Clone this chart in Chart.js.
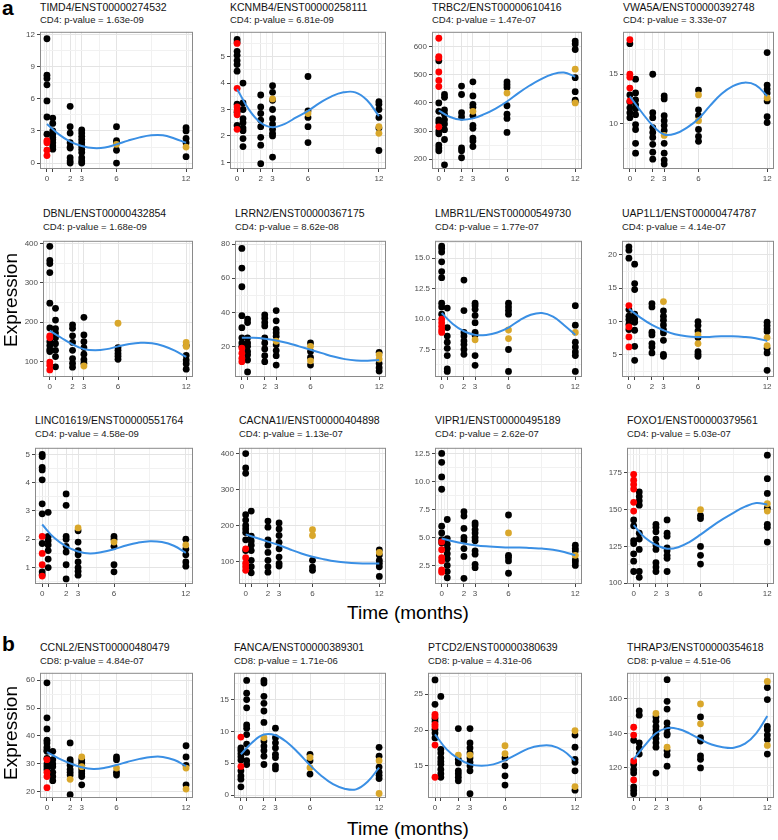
<!DOCTYPE html>
<html>
<head>
<meta charset="utf-8">
<script src="https://cdn.jsdelivr.net/npm/chart.js@4.4.1/dist/chart.umd.min.js"></script>
<style>
  body { margin: 0; background: #fff; }
  #fig { position: relative; width: 778px; height: 840px; overflow: hidden; font-family: "Liberation Sans", Arial, sans-serif; }
  .lbl { position: absolute; white-space: nowrap; line-height: 1; }
  .title { font-size: 10.5px; color: #111; transform: translateY(-50%); }
  .sub { font-size: 9.5px; color: #222; transform: translateY(-50%); }
  .axis { font-size: 19px; color: #000; transform: translate(-50%, -50%); }
  .tag { font-size: 21px; font-weight: bold; color: #000; }
  canvas { position: absolute; }
</style>
</head>
<body>
<div id="fig"></div>
<script>
// time points of the samples and the x tick labels
const months = [0, 0.5, 2, 3, 6, 12];
const monthLabels = ['0', '', '2', '3', '6', '12'];
const fitMonths = [0, 1, 2, 3, 4, 5, 6, 7, 8, 9, 10, 11, 12];

// ---- panel a ----
const TIMD4_black = [[11.6, 8.2, 7.9, 7.3, 5.8, 4.3, 2.7], [4.2, 3.7, 3.0, 2.7, 2.4, 2.2, 1.9, 1.6, 1.3], [5.3, 3.4, 2.8, 1.9, 1.5, 1.4, 0.5, 0.2, 0.0], [3.1, 2.8, 2.5, 2.2, 1.9, 1.6, 1.3, 1.0, 0.5, 0.2, 0.0], [3.4, 2.1, 1.9, 1.2, 0.0], [3.3, 3.0, 2.3, 1.9, 0.6]];
const TIMD4_red = [2.1, 1.9, 1.2, 0.7];
const TIMD4_gold = [[], [], [], [], [1.75], [1.5]];
const TIMD4_fit = [3.65, 2.7, 2.0, 1.6, 1.4, 1.45, 1.75, 2.1, 2.4, 2.6, 2.6, 2.3, 1.9];
const TIMD4_yTicks = [0, 3, 6, 9, 12];
const TIMD4_yLabels = ['0', '3', '6', '9', '12'];

const KCNMB4_black = [[5.65, 5.55, 5.2, 5.05, 4.85, 4.7, 4.45, 3.2, 2.9, 2.4], [4.0, 3.25, 3.0, 2.65, 2.5, 2.3, 2.2, 1.9, 1.6], [3.55, 3.1, 2.85, 2.6, 2.35, 1.95, 1.65, 0.95], [3.9, 3.65, 3.35, 3.0, 2.65, 2.45, 2.25, 2.1, 2.0, 1.2], [4.25, 2.95, 2.7, 2.35, 1.75], [3.3, 3.2, 3.0, 2.7, 2.3, 1.45]];
const KCNMB4_red = [5.5, 3.8, 3.1, 2.95, 2.8, 2.25];
const KCNMB4_gold = [[], [], [], [3.4], [2.85], [2.1, 2.35]];
const KCNMB4_fit = [3.78, 3.0, 2.5, 2.33, 2.45, 2.7, 2.95, 3.25, 3.5, 3.65, 3.65, 3.35, 2.75];
const KCNMB4_yTicks = [1, 2, 3, 4, 5];
const KCNMB4_yLabels = ['1', '2', '3', '4', '5'];

const TRBC2_black = [[550, 400, 370, 340, 330, 300, 290, 250, 240, 230], [430, 420, 375, 360, 340, 325, 305, 270, 180], [460, 430, 365, 350, 240, 230, 205], [475, 425, 395, 385, 355, 320, 310, 275, 265, 245], [475, 465, 455, 390, 360, 345, 295], [620, 610, 590, 490, 440, 410, 405]];
const TRBC2_red = [630, 565, 560, 510, 480, 458, 315];
const TRBC2_gold = [[], [], [], [370], [435], [520, 400]];
const TRBC2_fit = [373, 350, 340, 345, 360, 380, 405, 435, 462, 485, 502, 508, 493];
const TRBC2_yTicks = [200, 300, 400, 500, 600];
const TRBC2_yLabels = ['200', '300', '400', '500', '600'];

const VWA5A_black = [[18.1, 12.9, 12.2, 11.6, 11.1, 10.6], [14.5, 13.1, 12.4, 11.9, 11.5, 10.9, 9.9, 9.4, 8.0, 7.0], [15.0, 11.1, 10.6, 9.6, 9.1, 8.6, 7.9, 7.1, 6.4], [12.8, 12.5, 10.8, 10.3, 9.8, 9.3, 8.0, 7.0, 6.3, 5.9], [13.4, 11.4, 10.8, 9.4, 8.7, 8.2], [17.2, 13.9, 13.5, 13.1, 12.3, 10.7, 10.1]];
const VWA5A_red = [18.5, 15.0, 14.7, 13.6, 12.3];
const VWA5A_gold = [[], [], [], [8.8], [12.9, 10.3], [12.6]];
const VWA5A_fit = [12.75, 11.2, 9.8, 8.9, 9.0, 9.6, 10.5, 11.8, 13.0, 13.8, 14.15, 13.9, 12.8];
const VWA5A_yTicks = [10, 15];
const VWA5A_yLabels = ['10', '15'];

const DBNL_black = [[393, 357, 349, 326, 248, 185, 150, 140, 130, 125], [235, 205, 183, 172, 160, 145, 128, 112, 86], [193, 184, 165, 148, 128, 107, 95, 85], [212, 167, 150, 135, 118, 104, 95], [135, 128, 120, 113, 105], [140, 115, 103, 94, 80]];
const DBNL_red = [165, 160, 98, 90, 78];
const DBNL_gold = [[], [], [], [88], [197], [148, 138]];
const DBNL_fit = [178, 160, 143, 131, 128, 131, 138, 144, 147, 146, 139, 127, 111];
const DBNL_yTicks = [100, 200, 300, 400];
const DBNL_yLabels = ['100', '200', '300', '400'];

const LRRN2_black = [[77.5, 66, 55, 38, 31, 25, 22, 20], [36, 34, 25, 22, 20, 17, 15, 12, 5], [38.5, 36.5, 34, 32, 25, 22, 18.5, 14.5, 11], [41, 35, 30, 28, 26, 21, 17.5, 14.5, 9], [22, 17, 13.5, 9], [16.5, 10, 7.5, 5.5]];
const LRRN2_red = [19, 16, 13, 11];
const LRRN2_gold = [[], [], [], [23], [20, 11.5], [15, 12.5]];
const LRRN2_fit = [25, 25, 24.5, 23.5, 22, 20, 18, 16, 14, 12.5, 11.7, 11.5, 12];
const LRRN2_yTicks = [20, 40, 60, 80];
const LRRN2_yLabels = ['20', '40', '60', '80'];

const LMBR1L_black = [[16.0, 15.8, 15.5, 14.7, 13.9, 13.4, 11.3, 11.0, 10.4], [10.9, 9.3, 8.6, 8.1, 7.6, 7.0, 5.9, 5.7], [13.2, 10.7, 8.9, 8.6, 8.2, 7.9, 7.5, 7.1], [11.3, 11.1, 10.8, 10.3, 9.7, 8.9, 8.7, 7.0, 6.2], [11.3, 11.0, 10.7, 10.4, 7.5, 5.7], [11.1, 9.5, 8.1, 7.7, 7.3, 7.0, 5.7]];
const LMBR1L_red = [10.0, 9.7, 9.4, 9.1, 8.9];
const LMBR1L_gold = [[], [], [], [8.3], [9.1, 8.4], [8.9]];
const LMBR1L_fit = [10.5, 9.6, 9.0, 8.7, 8.7, 8.9, 9.3, 9.9, 10.35, 10.5, 10.2, 9.5, 8.7];
const LMBR1L_yTicks = [7.5, 10, 12.5, 15];
const LMBR1L_yLabels = ['7.5', '10.0', '12.5', '15.0'];

const UAP1L1_black = [[21.2, 20.7, 19.5, 11.8, 10.8, 10.3, 9.6, 8.8], [18.6, 15.7, 14.8, 11.1, 10.4, 9.9, 8.7, 6.3, 4.2], [12.7, 12.2, 8.4, 8.0, 6.7, 6.2, 5.3], [11.6, 10.8, 10.2, 9.5, 8.8, 8.3, 7.2, 5.1, 4.8], [10.0, 9.4, 8.6, 7.6, 5.5, 5.1, 4.8], [9.9, 9.4, 8.9, 8.5, 6.0, 5.3, 2.7]];
const UAP1L1_red = [12.4, 9.2, 7.7, 6.2];
const UAP1L1_gold = [[], [], [], [13.0], [8.0, 6.7], [7.6, 6.4]];
const UAP1L1_fit = [11.9, 10.6, 9.5, 8.7, 8.1, 7.8, 7.7, 7.7, 7.8, 7.8, 7.7, 7.5, 7.1];
const UAP1L1_yTicks = [5, 10, 15, 20];
const UAP1L1_yLabels = ['5', '10', '15', '20'];

const LINC01619_black = [[5.0, 4.92, 4.54, 4.45, 4.1, 3.25, 2.9, 1.85, 0.85, 0.75], [2.95, 2.1, 1.95, 1.8, 1.6, 1.3, 1.0], [3.6, 3.2, 2.1, 2.0, 1.75, 1.55, 1.1, 0.6], [2.3, 1.9, 1.6, 1.45, 1.2, 1.0, 0.87, 0.73], [2.1, 2.0, 1.75, 1.1, 0.85], [2.0, 1.65, 1.45, 1.2, 1.05]];
const LINC01619_red = [2.1, 1.5, 1.1, 0.7];
const LINC01619_gold = [[], [], [], [2.4], [1.9], [1.8]];
const LINC01619_fit = [2.52, 2.05, 1.75, 1.57, 1.5, 1.55, 1.65, 1.78, 1.88, 1.93, 1.9, 1.77, 1.52];
const LINC01619_yTicks = [1, 2, 3, 4, 5];
const LINC01619_yLabels = ['1', '2', '3', '4', '5'];

const CACNA1I_black = [[400, 360, 345, 230, 215, 200, 190, 180, 160, 130], [240, 170, 157, 145, 130, 103, 85, 68], [212, 195, 160, 145, 125, 103, 85, 70], [207, 190, 172, 153, 135, 112, 94, 87], [103, 84, 75], [132, 118, 103, 95, 85, 58]];
const CACNA1I_red = [135, 110, 95, 85, 75];
const CACNA1I_gold = [[], [], [], [], [188, 172], [125]];
const CACNA1I_fit = [175, 165, 155, 145, 133, 122, 113, 106, 100, 97, 95, 94, 94];
const CACNA1I_yTicks = [100, 200, 300, 400];
const CACNA1I_yLabels = ['100', '200', '300', '400'];

const VIPR1_black = [[12.5, 11.7, 10.4, 9.3, 6.0, 5.4, 4.8, 4.5], [6.6, 4.9, 4.4, 4.0, 3.55, 3.1, 2.5, 1.95, 1.4], [7.3, 6.9, 5.8, 5.0, 4.7, 4.0, 3.3, 1.35], [6.3, 6.1, 5.7, 5.4, 5.0, 4.7, 3.8, 3.5, 2.6, 2.3], [7.0, 3.4, 3.2, 2.9, 1.8], [4.3, 4.0, 3.8, 3.0, 2.8, 2.5]];
const VIPR1_red = [4.6, 3.9, 3.2, 2.9, 2.1, 1.9];
const VIPR1_gold = [[], [], [], [], [5.4], [3.4]];
const VIPR1_fit = [4.9, 4.65, 4.45, 4.3, 4.2, 4.15, 4.1, 4.1, 4.05, 4.0, 3.9, 3.7, 3.4];
const VIPR1_yTicks = [2.5, 5, 7.5, 10, 12.5];
const VIPR1_yLabels = ['2.5', '5.0', '7.5', '10.0', '12.5'];

const FOXO1_black = [[143, 139, 129, 127, 120, 115, 108], [162, 159, 156, 153, 134, 130, 123, 108, 104], [140, 138, 135, 130, 126, 123, 114, 111, 108], [143, 134, 132, 124, 122, 119, 117, 108], [146, 144, 125, 119, 113], [187, 171, 161, 151, 140, 138, 128]];
const FOXO1_red = [174, 170, 167, 164, 155, 149];
const FOXO1_gold = [[], [], [], [], [150], [154, 149]];
const FOXO1_fit = [139.5, 131, 126, 123.5, 124.5, 128, 133, 138.5, 143.5, 148, 152, 154.5, 153.5];
const FOXO1_yTicks = [100, 125, 150, 175];
const FOXO1_yLabels = ['100', '125', '150', '175'];

// ---- panel b ----
const CCNL2_black = [[59, 46.5, 42.5, 38.5, 37.5, 36, 35, 34.5, 32, 30, 29, 28], [34.5, 31.5, 30, 29, 27, 25.5, 24], [37.5, 31.5, 30.5, 29.5, 28, 27, 26, 19], [31.5, 30.5, 29.5, 28.5, 27.5, 26.5, 25.5, 22.5], [32.5, 31.5, 27, 26], [36.5, 32.5, 29.5, 22.5]];
const CCNL2_red = [31.5, 27, 25.5, 21.5];
const CCNL2_gold = [[], [], [24.5], [32.5, 29], [28.5], [28.5, 21]];
const CCNL2_fit = [34.2, 32, 30.2, 28.8, 28.2, 28.6, 29.6, 30.8, 31.8, 32.5, 32.5, 31.4, 29.2];
const CCNL2_yTicks = [20, 30, 40, 50, 60];
const CCNL2_yLabels = ['20', '30', '40', '50', '60'];

const FANCA_black = [[7.4, 7.0, 6.5, 6.0, 5.5, 3.8, 3.0, 2.5, 1.3], [18, 16, 15, 13.7, 11, 10.5, 9.5, 8, 6.7, 5.4, 4.8], [18, 17.6, 15.5, 14.4, 13.2, 11.4, 8.5, 7.7, 7.0, 6.1, 4.8], [10.5, 9.0, 8.2, 7.4, 6.4, 5.9, 4.6, 4.1], [6.4, 5.4, 3.3], [7.5, 6.1, 4.4, 3.6, 3.1, 2.6]];
const FANCA_red = [9.1, 4.5];
const FANCA_gold = [[], [], [9.0], [], [5.9, 4.3], [5.4, 0.25]];
const FANCA_fit = [6.4, 8.3, 9.5, 9.4, 8.3, 6.6, 4.7, 3.0, 1.7, 1.0, 0.9, 2.1, 4.3];
const FANCA_yTicks = [0, 5, 10, 15];
const FANCA_yLabels = ['0', '5', '10', '15'];

const PTCD2_black = [[27, 23.6, 21.6, 21.2, 20.1, 19.6, 18.9], [24.7, 17.3, 16.8, 16.1, 15.6, 15.2, 14.5, 13.9, 13.4], [20.2, 15.9, 15.4, 14.3, 13.9, 13.4, 12.9], [20.2, 18.2, 17.5, 16.8, 16.1, 15.5, 15.0, 14.3, 11.1], [16.1, 15.0, 13.6, 12.3], [19.3, 17.6, 15.9, 15.5, 14.3, 11.6]];
const PTCD2_red = [22.2, 21.9, 20.8, 20.5, 17.9, 13.4];
const PTCD2_gold = [[], [], [16.5], [16.5], [17.8, 16.7], [19.9, 12.1]];
const PTCD2_fit = [19.4, 17.3, 16.0, 15.2, 15.0, 15.2, 15.8, 16.6, 17.4, 17.8, 17.8, 17.1, 15.7];
const PTCD2_yTicks = [15, 20, 25];
const PTCD2_yLabels = ['15', '20', '25'];

const THRAP3_black = [[136, 122, 119, 117, 109, 107, 105], [153, 150.5, 134.5, 131.5, 128], [149.5, 147, 144, 142, 139.5, 137, 134.5, 132, 117], [171, 158.5, 154, 146, 143, 140, 139, 130, 127.5, 121], [149.5, 137.5, 135.5, 127, 125, 120], [166.5, 159.5, 144, 142, 139, 136.5, 128]];
const THRAP3_red = [143.5, 139, 124, 113];
const THRAP3_gold = [[], [], [151.5], [132], [157, 145.5], [170, 133]];
const THRAP3_fit = [125, 133, 140, 143, 142.5, 140, 136.5, 133.5, 132, 131.7, 134, 140, 150];
const THRAP3_yTicks = [120, 140, 160];
const THRAP3_yLabels = ['120', '140', '160'];

// ---- layout ----
const rows = [
  { titleY: 7, subY: 19.5, top: 29, bottom: 169 },
  { titleY: 213, subY: 227, top: 238, bottom: 377 },
  { titleY: 420, subY: 434, top: 445, bottom: 584 },
  { titleY: 647, subY: 661, top: 670, bottom: 798 }
];
const colRight = [194, 387, 583, 775];

const panels = [
  { t: 'TIMD4/ENST00000274532', s: 'CD4: p-value = 1.63e-09', black: TIMD4_black, red: TIMD4_red, gold: TIMD4_gold, fit: TIMD4_fit, yt: TIMD4_yTicks, yl: TIMD4_yLabels, yr: [-0.55, 12.25], row: 0, col: 0, left: 40 },
  { t: 'KCNMB4/ENST00000258111', s: 'CD4: p-value = 6.81e-09', black: KCNMB4_black, red: KCNMB4_red, gold: KCNMB4_gold, fit: KCNMB4_fit, yt: KCNMB4_yTicks, yl: KCNMB4_yLabels, yr: [0.75, 5.94], row: 0, col: 1, left: 230 },
  { t: 'TRBC2/ENST00000610416', s: 'CD4: p-value = 1.47e-07', black: TRBC2_black, red: TRBC2_red, gold: TRBC2_gold, fit: TRBC2_fit, yt: TRBC2_yTicks, yl: TRBC2_yLabels, yr: [165, 653], row: 0, col: 2, left: 432 },
  { t: 'VWA5A/ENST00000392748', s: 'CD4: p-value = 3.33e-07', black: VWA5A_black, red: VWA5A_red, gold: VWA5A_gold, fit: VWA5A_fit, yt: VWA5A_yTicks, yl: VWA5A_yLabels, yr: [5.4, 19.3], row: 0, col: 3, left: 623 },
  { t: 'DBNL/ENST00000432854', s: 'CD4: p-value = 1.68e-09', black: DBNL_black, red: DBNL_red, gold: DBNL_gold, fit: DBNL_fit, yt: DBNL_yTicks, yl: DBNL_yLabels, yr: [60, 407], row: 1, col: 0, left: 43 },
  { t: 'LRRN2/ENST00000367175', s: 'CD4: p-value = 8.62e-08', black: LRRN2_black, red: LRRN2_red, gold: LRRN2_gold, fit: LRRN2_fit, yt: LRRN2_yTicks, yl: LRRN2_yLabels, yr: [2, 82], row: 1, col: 1, left: 235 },
  { t: 'LMBR1L/ENST00000549730', s: 'CD4: p-value = 1.77e-07', black: LMBR1L_black, red: LMBR1L_red, gold: LMBR1L_gold, fit: LMBR1L_fit, yt: LMBR1L_yTicks, yl: LMBR1L_yLabels, yr: [5.24, 16.43], row: 1, col: 2, left: 435 },
  { t: 'UAP1L1/ENST00000474787', s: 'CD4: p-value = 4.14e-07', black: UAP1L1_black, red: UAP1L1_red, gold: UAP1L1_gold, fit: UAP1L1_fit, yt: UAP1L1_yTicks, yl: UAP1L1_yLabels, yr: [1.7, 22.1], row: 1, col: 3, left: 622 },
  { t: 'LINC01619/ENST00000551764', s: 'CD4: p-value = 4.58e-09', black: LINC01619_black, red: LINC01619_red, gold: LINC01619_gold, fit: LINC01619_fit, yt: LINC01619_yTicks, yl: LINC01619_yLabels, yr: [0.42, 5.23], row: 2, col: 0, left: 35 },
  { t: 'CACNA1I/ENST00000404898', s: 'CD4: p-value = 1.13e-07', black: CACNA1I_black, red: CACNA1I_red, gold: CACNA1I_gold, fit: CACNA1I_fit, yt: CACNA1I_yTicks, yl: CACNA1I_yLabels, yr: [37, 416], row: 2, col: 1, left: 239 },
  { t: 'VIPR1/ENST00000495189', s: 'CD4: p-value = 2.62e-07', black: VIPR1_black, red: VIPR1_red, gold: VIPR1_gold, fit: VIPR1_fit, yt: VIPR1_yTicks, yl: VIPR1_yLabels, yr: [0.84, 13.0], row: 2, col: 2, left: 435 },
  { t: 'FOXO1/ENST00000379561', s: 'CD4: p-value = 5.03e-07', black: FOXO1_black, red: FOXO1_red, gold: FOXO1_gold, fit: FOXO1_fit, yt: FOXO1_yTicks, yl: FOXO1_yLabels, yr: [99.5, 192], row: 2, col: 3, left: 627 },
  { t: 'CCNL2/ENST00000480479', s: 'CD8: p-value = 4.84e-07', black: CCNL2_black, red: CCNL2_red, gold: CCNL2_gold, fit: CCNL2_fit, yt: CCNL2_yTicks, yl: CCNL2_yLabels, yr: [17.8, 62.6], row: 3, col: 0, left: 40 },
  { t: 'FANCA/ENST00000389301', s: 'CD8: p-value = 1.71e-06', black: FANCA_black, red: FANCA_red, gold: FANCA_gold, fit: FANCA_fit, yt: FANCA_yTicks, yl: FANCA_yLabels, yr: [-0.46, 19.2], row: 3, col: 1, left: 234 },
  { t: 'PTCD2/ENST00000380639', s: 'CD8: p-value = 4.31e-06', black: PTCD2_black, red: PTCD2_red, gold: PTCD2_gold, fit: PTCD2_fit, yt: PTCD2_yTicks, yl: PTCD2_yLabels, yr: [10.5, 28], row: 3, col: 2, left: 428 },
  { t: 'THRAP3/ENST00000354618', s: 'CD8: p-value = 4.51e-06', black: THRAP3_black, red: THRAP3_red, gold: THRAP3_gold, fit: THRAP3_fit, yt: THRAP3_yTicks, yl: THRAP3_yLabels, yr: [102.6, 175], row: 3, col: 3, left: 627 }
];

const BLUE = '#3A8FE4';
const RED = '#FF0000';
const GOLD = '#D9A72B';
const FONT = "'Liberation Sans', Arial, sans-serif";
Chart.defaults.font.family = FONT;

const fig = document.getElementById('fig');

function addText(cls, text, x, y) {
  const d = document.createElement('div');
  d.className = 'lbl ' + cls;
  d.textContent = text;
  d.style.left = x + 'px';
  d.style.top = y + 'px';
  fig.appendChild(d);
  return d;
}

// minor grid lines like ggplot: midpoints, extended one step past the ends
function minorBreaks(major, lo, hi) {
  const b = major.slice();
  const d = b[1] - b[0];
  if (lo < b[0]) b.unshift(b[0] - d);
  if (hi > b[b.length - 1]) b.push(b[b.length - 1] + d);
  const out = [];
  for (let i = 0; i < b.length - 1; i++) out.push((b[i] + b[i + 1]) / 2);
  return out.filter(v => v > lo && v < hi);
}

const panelBorder = {
  id: 'panelBorder',
  afterDraw(chart) {
    const { ctx, chartArea: a } = chart;
    ctx.save();
    ctx.strokeStyle = '#8A8A8A';
    ctx.lineWidth = 1;
    ctx.strokeRect(a.left + 0.5, a.top + 0.5, a.right - a.left - 1, a.bottom - a.top - 1);
    ctx.restore();
  }
};

const AX = 30, PT = 4, PR = 3, XH = 16;

function gridOpts(majors) {
  return {
    color: c => majors.includes(c.tick.value) ? '#E4E4E4' : '#F1F1F1',
    lineWidth: 1,
    tickLength: 3,
    tickColor: c => majors.includes(c.tick.value) ? '#444' : 'rgba(0,0,0,0)'
  };
}

function makePanel(p) {
  const row = rows[p.row];
  const right = colRight[p.col];
  addText('title', p.t, p.left, row.titleY);
  addText('sub', p.s, p.left, row.subY);

  const canvas = document.createElement('canvas');
  canvas.width = right - p.left + AX + PR;
  canvas.height = row.bottom - row.top + PT + XH;
  canvas.style.left = (p.left - AX) + 'px';
  canvas.style.top = (row.top - PT) + 'px';
  fig.appendChild(canvas);

  const pts = lists => lists.flatMap((vals, i) => vals.map(v => ({ x: months[i], y: v })));
  const xMinor = minorBreaks(months, -0.6, 12.6);
  const yMinor = minorBreaks(p.yt, p.yr[0], p.yr[1]);
  const tickFont = { size: 8, family: FONT };

  new Chart(canvas, {
    type: 'scatter',
    data: {
      datasets: [
        { data: fitMonths.map((m, i) => ({ x: m, y: p.fit[i] })), showLine: true, borderColor: BLUE, borderWidth: 2, pointRadius: 0, tension: 0.4, order: 0 },
        { data: p.red.map(v => ({ x: 0, y: v })), backgroundColor: RED, pointRadius: 3.4, pointBorderWidth: 0, order: 1 },
        { data: pts(p.gold), backgroundColor: GOLD, pointRadius: 3.4, pointBorderWidth: 0, order: 2 },
        { data: pts(p.black), backgroundColor: '#000', pointRadius: 3.4, pointBorderWidth: 0, order: 3 }
      ]
    },
    options: {
      responsive: false,
      animation: false,
      devicePixelRatio: 1,
      events: [],
      layout: { padding: { top: PT, right: PR, left: 0, bottom: 0 } },
      plugins: { legend: { display: false }, tooltip: { enabled: false } },
      scales: {
        x: {
          type: 'linear', min: -0.6, max: 12.6,
          afterBuildTicks: s => { s.ticks = months.concat(xMinor).sort((a, b) => a - b).map(v => ({ value: v })); },
          afterFit: s => { s.height = XH; },
          border: { display: false },
          grid: gridOpts(months),
          ticks: {
            autoSkip: false, maxRotation: 0, padding: 2, color: '#4D4D4D', font: tickFont,
            callback: v => { const i = months.indexOf(v); return i >= 0 ? monthLabels[i] : ''; }
          }
        },
        y: {
          type: 'linear', min: p.yr[0], max: p.yr[1],
          afterBuildTicks: s => { s.ticks = p.yt.concat(yMinor).sort((a, b) => a - b).map(v => ({ value: v })); },
          afterFit: s => { s.width = AX; },
          border: { display: false },
          grid: gridOpts(p.yt),
          ticks: {
            autoSkip: false, padding: 2, color: '#4D4D4D', font: tickFont,
            callback: v => { const i = p.yt.indexOf(v); return i >= 0 ? p.yl[i] : ''; }
          }
        }
      }
    },
    plugins: [panelBorder]
  });
}

panels.forEach(makePanel);

// figure-level labels
addText('tag', 'a', 2, -3);
addText('tag', 'b', 2, 633);
addText('axis', 'Time (months)', 408, 612);
addText('axis', 'Time (months)', 408, 828);
const e1 = addText('axis', 'Expression', 10, 300);
e1.style.transform = 'translate(-50%, -50%) rotate(-90deg)';
const e2 = addText('axis', 'Expression', 10, 733);
e2.style.transform = 'translate(-50%, -50%) rotate(-90deg)';
</script>
</body>
</html>
